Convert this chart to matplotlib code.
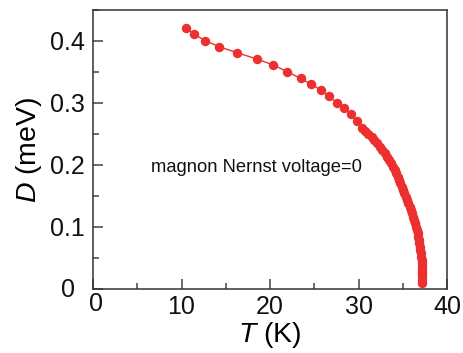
import matplotlib
matplotlib.use("Agg")
import matplotlib.pyplot as plt
from matplotlib.ticker import MultipleLocator, FuncFormatter

plt.rcParams['font.family'] = ['Liberation Sans', 'DejaVu Sans']
plt.rcParams['mathtext.fontset'] = 'custom'
plt.rcParams['mathtext.it'] = 'Liberation Sans:italic'
plt.rcParams['mathtext.rm'] = 'Liberation Sans'

# Data
T_K = [10.47, 11.45, 12.66, 14.27, 16.27, 18.5, 20.37, 21.95, 23.45, 24.6,
       25.73, 26.63, 27.57, 28.4, 29.15, 29.8, 30.36,
       30.75, 31.1, 31.49,
       31.79, 32.09, 32.39, 32.69, 32.99,
       33.22, 33.44, 33.67, 33.89, 34.12,
       34.27, 34.42, 34.58, 34.73, 34.88,
       35.03, 35.18, 35.33, 35.48, 35.63,
       35.77, 35.9, 36.04, 36.17, 36.31,
       36.4, 36.49, 36.58, 36.67, 36.76,
       36.82, 36.88, 36.94, 37.0, 37.06,
       37.09, 37.12, 37.15, 37.18, 37.21,
       37.21, 37.21, 37.21, 37.21]
D_meV = [0.4215, 0.411, 0.4005, 0.3908, 0.3811, 0.371, 0.3613, 0.3505, 0.3398, 0.3306,
         0.321, 0.3108, 0.3005, 0.2915, 0.2818, 0.271, 0.2592,
         0.2545, 0.2502, 0.2456,
         0.2403, 0.2349, 0.2296, 0.2243, 0.2189,
         0.2135, 0.2081, 0.2027, 0.1973, 0.1919,
         0.1865, 0.1811, 0.1758, 0.1704, 0.1650,
         0.1596, 0.1543, 0.1489, 0.1436, 0.1382,
         0.1328, 0.1274, 0.1221, 0.1167, 0.1113,
         0.1059, 0.1005, 0.0952, 0.0898, 0.0844,
         0.0790, 0.0737, 0.0683, 0.0630, 0.0576,
         0.0522, 0.0468, 0.0414, 0.0360, 0.0306,
         0.0255, 0.0204, 0.0152, 0.0100]

x_ticks = [0, 10, 20, 30, 40]
y_ticks = [0, 0.1, 0.2, 0.3, 0.4]
annotation = "magnon Nernst voltage=0"

W, H = 463, 353
fig = plt.figure(figsize=(W/100, H/100), dpi=100)
ax = fig.add_axes([93/W, 1-289/H, (447-93)/W, (289-10)/H])

red = '#ec3030'
ax.plot(T_K, D_meV, '-', color=red, lw=1.0, marker='o', ms=6.8,
        mfc=red, mec=red, mew=0, zorder=3)

ax.set_xlim(0, 40)
ax.set_ylim(0, 0.45)
ax.set_xticks(x_ticks)
ax.set_yticks(y_ticks)
ax.xaxis.set_minor_locator(MultipleLocator(5))
ax.yaxis.set_minor_locator(MultipleLocator(0.05))
# the zero labels are drawn separately (offset from the corner as in the reference)
ax.yaxis.set_major_formatter(FuncFormatter(lambda v, p: '' if abs(v) < 1e-9 else f'{v:.1f}'))
ax.xaxis.set_major_formatter(FuncFormatter(lambda v, p: '' if abs(v) < 1e-9 else f'{v:g}'))

for s in ax.spines.values():
    s.set_color('#333333')
    s.set_linewidth(1.1)
ax.tick_params(which='both', direction='in', top=False, right=False,
               color='#444444', width=1.1, labelsize=18, labelcolor='#111111')
ax.tick_params(which='major', length=7)
ax.tick_params(which='minor', length=4)
ax.tick_params(axis='y', which='major', pad=6)
ax.tick_params(axis='x', which='major', pad=4)

fig.text(68.5/W, 1-290/H, '0', fontsize=18, ha='center', va='center', color='#111111')
fig.text(96/W, 1-304/H, '0', fontsize=18, ha='center', va='center', color='#111111')

ax.set_xlabel(r'$T$ (K)', fontsize=20.5, labelpad=1)
ax.set_ylabel(r'$D$ (meV)', fontsize=20.5, labelpad=4)

ax.text((151-93)/354*40, (289-167)/279*0.45, annotation, fontsize=13.2,
        va='center', ha='left', color='#111111')

fig.savefig('out.png', dpi=100)
